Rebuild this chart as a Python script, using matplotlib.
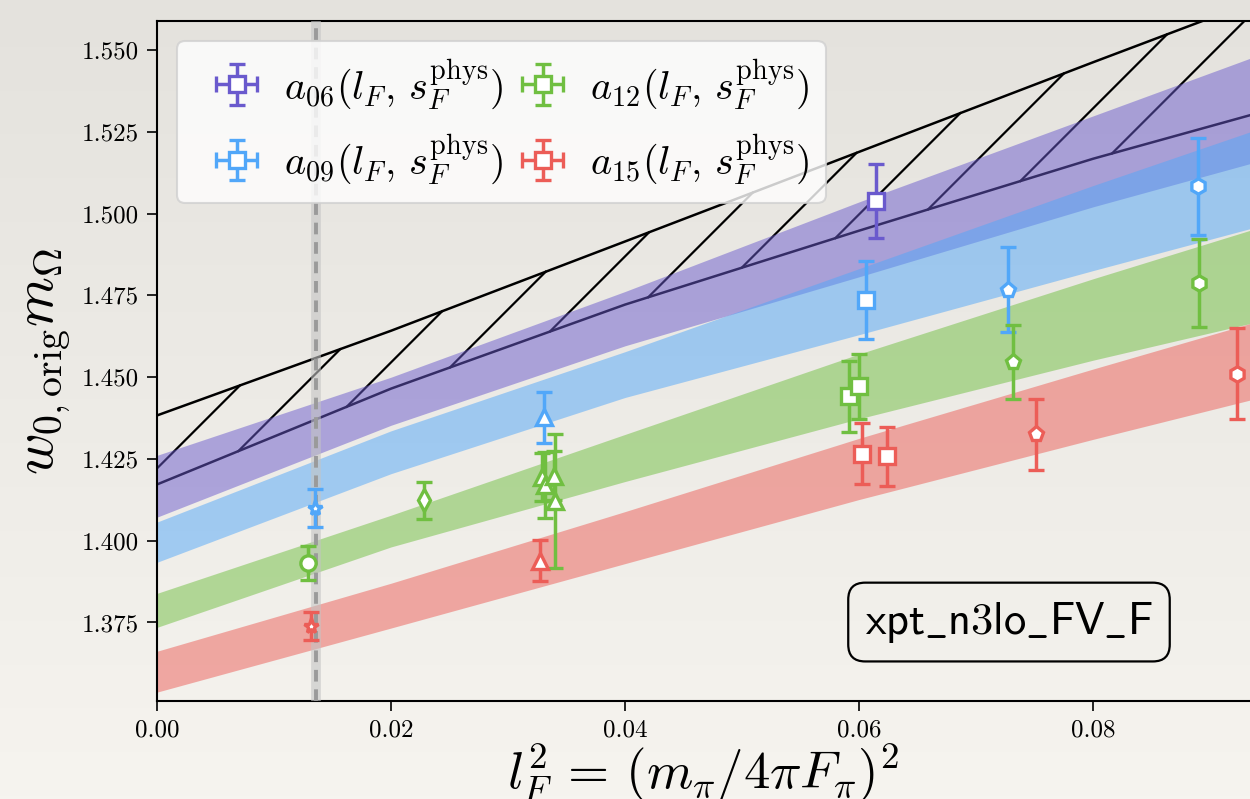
import numpy as np
import matplotlib
matplotlib.use('Agg')
import matplotlib.pyplot as plt
from matplotlib.colors import LinearSegmentedColormap
from matplotlib.ticker import FormatStrFormatter, MultipleLocator

plt.rcParams['font.family'] = 'serif'
plt.rcParams['font.serif'] = ['cmr10']
plt.rcParams['mathtext.fontset'] = 'cm'
plt.rcParams['axes.formatter.use_mathtext'] = True

band_x = [0.0, 0.02, 0.04, 0.06, 0.08, 0.0934]
cont_lo = [1.4172, 1.4465, 1.4722, 1.4948, 1.5168, 1.5301]
cont_hi = [1.4383, 1.4642, 1.4915, 1.5189, 1.5463, 1.5644]
a06_lo = [1.4072, 1.4353, 1.4596, 1.4807, 1.5021, 1.5153]
a06_hi = [1.4261, 1.4500, 1.4762, 1.5036, 1.5299, 1.5475]
a09_lo = [1.3934, 1.4205, 1.4438, 1.4630, 1.4826, 1.4954]
a09_hi = [1.4057, 1.4336, 1.4578, 1.4832, 1.5086, 1.5250]
a12_lo = [1.3735, 1.3981, 1.4181, 1.4373, 1.4552, 1.4664]
a12_hi = [1.3839, 1.4078, 1.4325, 1.4571, 1.4801, 1.4949]
a15_lo = [1.3537, 1.3733, 1.3930, 1.4126, 1.4310, 1.4430]
a15_hi = [1.3662, 1.3870, 1.4089, 1.4313, 1.4525, 1.4664]

# lattice data
a06_x = [0.06145]
a06_y = [1.5038]
a06_err = [0.0113]
a06_mk = ['s']

a09_x = [0.01350, 0.03308, 0.06060, 0.07268, 0.08895]
a09_y = [1.4101, 1.4378, 1.4737, 1.4768, 1.5084]
a09_err = [0.0058, 0.0078, 0.0119, 0.0131, 0.0148]
a09_mk = ['*', '^', 's', 'p', 'h']

a12_x = [0.01293, 0.02282, 0.03288, 0.03316, 0.03393, 0.03402, 0.05917, 0.06000, 0.07319, 0.08900]
a12_y = [1.3932, 1.4123, 1.4194, 1.4169, 1.4199, 1.4121, 1.4441, 1.4472, 1.4546, 1.4788]
a12_err = [0.0051, 0.0056, 0.0073, 0.0101, 0.0075, 0.0205, 0.0109, 0.0100, 0.0114, 0.0134]
a12_mk = ['o', 'd', '^', '^', '^', '^', 's', 's', 'p', 'h']

a15_x = [0.01316, 0.03274, 0.06023, 0.06237, 0.07513, 0.09228]
a15_y = [1.3740, 1.3939, 1.4266, 1.4258, 1.4325, 1.4511]
a15_err = [0.0043, 0.0062, 0.0094, 0.0091, 0.0108, 0.0138]
a15_mk = ['*', '^', 's', 's', 'p', 'h']

phys_x = 0.0136

labels = [r'$a_{06}(l_F,\,s_F^{\rm phys})$', r'$a_{09}(l_F,\,s_F^{\rm phys})$',
          r'$a_{12}(l_F,\,s_F^{\rm phys})$', r'$a_{15}(l_F,\,s_F^{\rm phys})$']
colors = ['#6A5ACD', '#51A7F9', '#70BF41', '#EC5D57']

fig = plt.figure(figsize=(12.5, 7.99), dpi=100)

# paper-ish background
bg = fig.add_axes([0, 0, 1, 1], zorder=-10)
cmap = LinearSegmentedColormap.from_list('paper', ['#e4e2dd', '#f6f4ef'])
bg.imshow(np.linspace(0, 1, 256).reshape(-1, 1), aspect='auto', cmap=cmap, extent=[0, 1, 0, 1])
bg.axis('off')

ax = fig.add_axes([0.1256, 0.1227, 0.8744, 0.8514])
ax.set_facecolor('none')
ax.set_xlim(0, 0.0934)
ax.set_ylim(1.3510, 1.559)

# continuum band: outline + sparse hatch
ax.plot(band_x, cont_hi, color='black', lw=1.8, zorder=1)
ax.plot(band_x, cont_lo, color='black', lw=1.8, zorder=1)

p0 = ax.transData.transform((0, 1.4))
px_per_x = (ax.transData.transform((0.01, 1.4)) - p0)[0] / 0.01
px_per_y = (ax.transData.transform((0, 1.41)) - p0)[1] / 0.01
slope = px_per_x / px_per_y
step = 64 / px_per_y
xs = np.linspace(0, band_x[-1], 4000)
lo_f = np.interp(xs, band_x, cont_lo)
hi_f = np.interp(xs, band_x, cont_hi)
b = 1.4221 - 10 * step
while b < cont_hi[-1]:
    yl = b + slope * xs
    inside = (yl >= lo_f) & (yl <= hi_f)
    if inside.any():
        ax.plot(xs[inside][[0, -1]], yl[inside][[0, -1]], color='black', lw=1.6, zorder=1)
    b += step

# fit bands
for lo, hi, c in zip([a06_lo, a09_lo, a12_lo, a15_lo], [a06_hi, a09_hi, a12_hi, a15_hi], colors):
    ax.fill_between(band_x, lo, hi, color=c, alpha=0.5, lw=0, zorder=2)

# physical point
ax.axvline(phys_x, color='#c4c4c4', lw=7, alpha=0.6, zorder=3)
ax.axvline(phys_x, color='#9a9a9a', lw=2.8, ls=(0, (3, 2)), zorder=3)

# data points
sets = [(a06_x, a06_y, a06_err, a06_mk), (a09_x, a09_y, a09_err, a09_mk),
        (a12_x, a12_y, a12_err, a12_mk), (a15_x, a15_y, a15_err, a15_mk)]
for (xx, yy, ee, mm), c in zip(sets, colors):
    for x, y, e, m in zip(xx, yy, ee, mm):
        ax.errorbar(x, y, yerr=e, fmt=m, color=c, mfc='white', mec=c, ms=11, mew=2.4,
                    elinewidth=2.5, capsize=6, capthick=2.5, zorder=5)

# legend handles
handles = []
for c in colors:
    h = ax.errorbar([np.nan], [np.nan], xerr=[1], yerr=[1], fmt='s', color=c, mfc='white',
                    mec=c, ms=11, mew=2.4, elinewidth=2.5, capsize=6, capthick=2.5)
    handles.append(h)
leg = ax.legend(handles, labels, loc='upper left', ncol=2, fontsize=29, frameon=True,
                framealpha=0.8, facecolor='white', edgecolor='#d0d0d0', fancybox=True,
                handlelength=2.15, handletextpad=0.1, columnspacing=-0.1, labelspacing=0.52,
                borderpad=0.4, borderaxespad=0.5)
leg.get_frame().set_linewidth(1.5)
leg.set_zorder(10)

ax.text(0.7795, 0.116, r'$\mathsf{xpt\_n3lo\_FV\_F}$', transform=ax.transAxes,
        ha='center', va='center', fontsize=32, zorder=11,
        bbox=dict(boxstyle='round,pad=0.38', fc='none', ec='black', lw=1.6))

ax.xaxis.set_major_locator(MultipleLocator(0.02))
ax.yaxis.set_major_locator(MultipleLocator(0.025))
ax.xaxis.set_major_formatter(FormatStrFormatter('%.2f'))
ax.yaxis.set_major_formatter(FormatStrFormatter('%.3f'))
ax.tick_params(labelsize=18, length=7, width=1.2, pad=6)
for s in ['left', 'bottom', 'top']:
    ax.spines[s].set_linewidth(1.5)
ax.spines['right'].set_visible(False)

ax.set_xlabel(r'$l^2_F \,=\, (m_\pi / 4 \pi F_\pi)^2$', fontsize=38, labelpad=0)
ax.set_ylabel(r'$w_{0,\mathrm{orig}} m_\Omega$', fontsize=41, labelpad=6)

fig.savefig('out.png', dpi=100, facecolor=fig.get_facecolor())
